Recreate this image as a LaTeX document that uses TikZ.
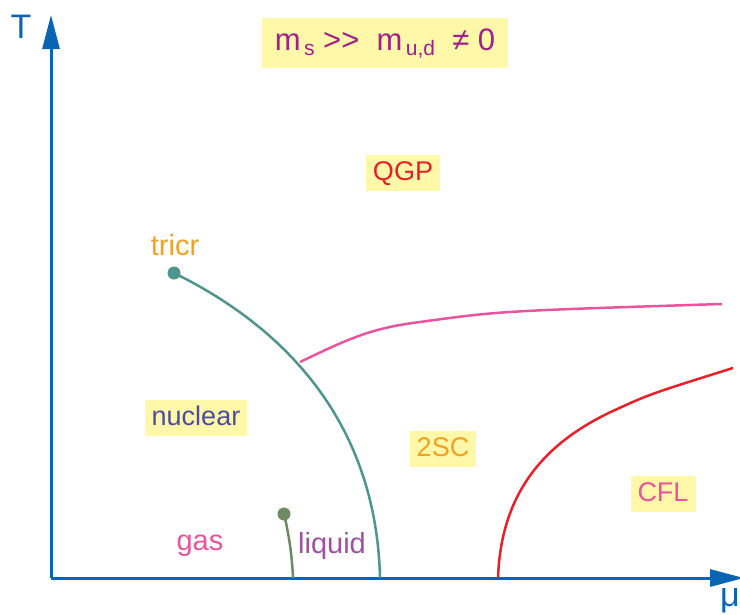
\documentclass[tikz,border=0pt]{standalone}
\usepackage{fontspec}
\setmainfont{Liberation Sans}
\usetikzlibrary{arrows.meta}
\definecolor{axBlue}{HTML}{0A64B4}
\definecolor{boxYellow}{HTML}{FFF8A8}
\definecolor{mTeal}{HTML}{4E958E}
\definecolor{mPink}{HTML}{E8559E}
\definecolor{mRed}{HTML}{E8202A}
\definecolor{mPurple}{HTML}{A0208C}
\definecolor{mViolet}{HTML}{A050A0}
\definecolor{mNavy}{HTML}{4C4CA0}
\definecolor{mOrange}{HTML}{F5A020}
\definecolor{mOlive}{HTML}{6E8A62}

\begin{document}
\begin{tikzpicture}[x=1pt, y=-1pt,
  axis/.style={draw=axBlue, line width=3pt,
               -{Triangle[width=17pt, length=34pt]}},
  phasebox/.style={fill=boxYellow, inner xsep=7pt, inner ysep=6pt,
                   text height=19pt, text depth=5pt,
                   font=\fontsize{27}{30}\selectfont},
  lbl/.style={font=\fontsize{29}{32}\selectfont},
  border/.style={line width=2.5pt},
  dot/.style={circle, inner sep=0pt, minimum size=13pt},
]
  \useasboundingbox (0,0) rectangle (740,614);

  % axes
  \coordinate (orig) at (51,578);
  \coordinate (tTip) at (51,15);
  \coordinate (muTip) at (744,578);
  \draw[axis] (orig) -- (tTip);
  \draw[axis] (orig) -- (muTip);
  \node[text=axBlue, font=\fontsize{34}{36}\selectfont] (tLab) at (21,27) {T};
  \node[text=axBlue, font=\fontsize{34}{36}\selectfont] (muLab) at (730,601) {μ};

  % title
  \node[phasebox, text=mPurple, font=\fontsize{31}{34}\selectfont,
        inner xsep=13pt, inner ysep=9pt, text height=23pt, text depth=9pt]
    (title) at (385,43)
    {m\raisebox{-0.35ex}{\fontsize{21}{22}\selectfont\,s} {>}{>}\ \ m\raisebox{-0.35ex}{\fontsize{21}{22}\selectfont\,u,d}\ \ ≠ 0};

  % phase boundaries
  \node[dot, fill=mTeal] (tcp) at (174,273) {};
  \coordinate (split) at (300,362);
  \coordinate (nucEnd) at (380,578);
  \draw[border, draw=mTeal] (tcp.center) .. controls (270,320) and (376,410) .. (nucEnd);
  \draw[border, draw=mPink] (split) .. controls (350,338) and (372,328) .. (420,322)
    .. controls (500,311) .. (722,304);
  \coordinate (cflLow) at (498,578);
  \coordinate (cflHigh) at (733,368);
  \draw[border, draw=mRed] (cflLow) .. controls (501,492) and (545,442) .. (615,410)
    .. controls (650,394) .. (cflHigh);
  \node[dot, fill=mOlive] (lgp) at (284,514) {};
  \coordinate (lgEnd) at (293,578);
  \draw[border, draw=mOlive] (lgp.center) .. controls (289,535) and (292,555) .. (lgEnd);

  % labels
  \node[lbl, text=mOrange] (tricr) at (175,245) {tricr};
  \node[phasebox, text=mRed] (qgp) at (403,173) {QGP};
  \node[phasebox, text=mNavy] (nuclear) at (196,418) {nuclear};
  \node[phasebox, text=mOrange] (twosc) at (443,449) {2SC};
  \node[phasebox, text=mPink] (cfl) at (663,494) {CFL};
  \node[lbl, text=mPink] (gas) at (200,546) {gas};
  \node[lbl, text=mViolet] (liquid) at (332,546) {liquid};
\end{tikzpicture}
\end{document}
